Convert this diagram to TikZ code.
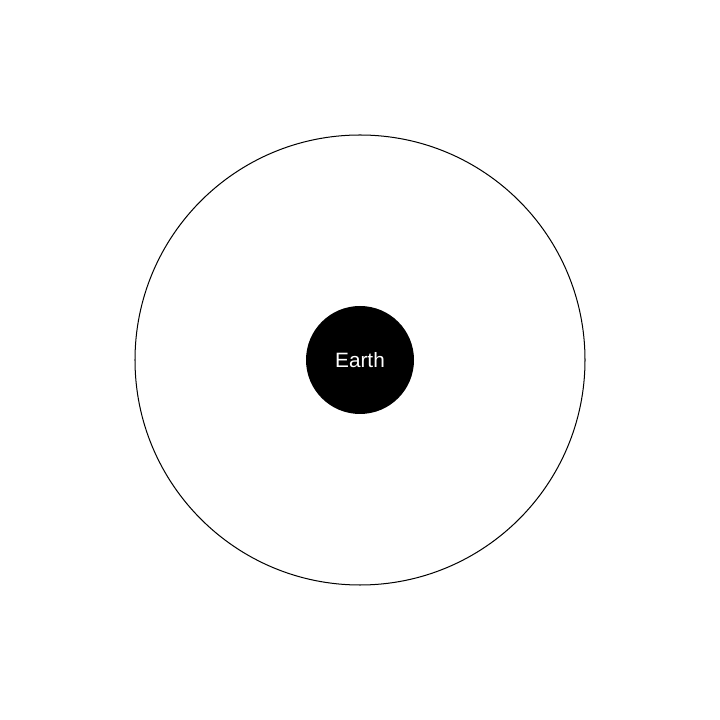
\documentclass[tikz,border=0pt]{standalone}
\usepackage{fontspec}
\setmainfont{Liberation Sans}
\usepackage{tikz}
\usetikzlibrary{positioning}
\tikzstyle{planet} = [circle, fill=black, text=white, minimum size=1.5cm, inner sep=0pt, font=\fontsize{8.2}{10}\selectfont]
\tikzstyle{orbit} = [circle, draw=black, line width=0.4pt, minimum size=6.25cm, inner sep=0pt]

\begin{document}
\begin{tikzpicture}
    \useasboundingbox (-5,-5) rectangle (5,5);
    \node (orbit) [orbit] at (0,0) {};
    \node (earth) [planet] at (orbit.center) {Earth};
\end{tikzpicture}
\end{document}
